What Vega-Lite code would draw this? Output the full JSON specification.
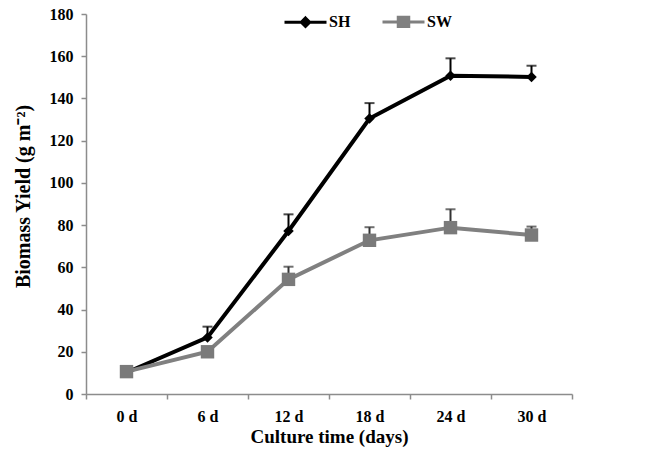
{
  "$schema": "https://vega.github.io/schema/vega-lite/v6.json",
  "width": 486,
  "height": 380,
  "autosize": "none",
  "padding": {"left": 86, "top": 14, "right": 92, "bottom": 65},
  "background": "white",
  "data": {
    "values": [
      {"time": "0 d", "series": "SH", "yield": 10.2, "upper": 10.2},
      {"time": "6 d", "series": "SH", "yield": 26.8, "upper": 31.9},
      {"time": "12 d", "series": "SH", "yield": 77.2, "upper": 85.1},
      {"time": "18 d", "series": "SH", "yield": 130.5, "upper": 137.8},
      {"time": "24 d", "series": "SH", "yield": 150.8, "upper": 159},
      {"time": "30 d", "series": "SH", "yield": 150.2, "upper": 155.5},
      {"time": "0 d", "series": "SW", "yield": 10.6, "upper": 10.6},
      {"time": "6 d", "series": "SW", "yield": 20, "upper": 20},
      {"time": "12 d", "series": "SW", "yield": 54.3, "upper": 60.3},
      {"time": "18 d", "series": "SW", "yield": 72.8, "upper": 79},
      {"time": "24 d", "series": "SW", "yield": 78.8, "upper": 87.5},
      {"time": "30 d", "series": "SW", "yield": 75.3, "upper": 79.3}
    ]
  },
  "encoding": {
    "x": {
      "field": "time",
      "type": "ordinal",
      "sort": ["0 d", "6 d", "12 d", "18 d", "24 d", "30 d"],
      "scale": {"paddingInner": 0, "paddingOuter": 0},
      "axis": {
        "title": "Culture time (days)",
        "labelAngle": 0,
        "tickBand": "extent",
        "labelPadding": 9,
        "titlePadding": 3
      }
    }
  },
  "layer": [
    {
      "transform": [{"filter": "datum.upper > datum.yield && datum.series === 'SH'"}],
      "mark": {"type": "rule", "strokeWidth": 2, "color": "#000000"},
      "encoding": {
        "y": {"field": "yield", "type": "quantitative"},
        "y2": {"field": "upper"}
      }
    },
    {
      "transform": [{"filter": "datum.upper > datum.yield && datum.series === 'SW'"}],
      "mark": {"type": "rule", "strokeWidth": 2, "color": "#333333"},
      "encoding": {
        "y": {"field": "yield", "type": "quantitative"},
        "y2": {"field": "upper"}
      }
    },
    {
      "transform": [{"filter": "datum.upper > datum.yield && datum.series === 'SH'"}],
      "mark": {"type": "tick", "orient": "horizontal", "size": 10, "thickness": 2, "color": "#000000"},
      "encoding": {
        "y": {"field": "upper", "type": "quantitative"}
      }
    },
    {
      "transform": [{"filter": "datum.upper > datum.yield && datum.series === 'SW'"}],
      "mark": {"type": "tick", "orient": "horizontal", "size": 10, "thickness": 2, "color": "#333333"},
      "encoding": {
        "y": {"field": "upper", "type": "quantitative"}
      }
    },
    {
      "mark": {"type": "line", "strokeWidth": 4},
      "encoding": {
        "y": {
          "field": "yield",
          "type": "quantitative",
          "scale": {"domain": [0, 180], "nice": false},
          "axis": {
            "title": "Biomass Yield (g m⁻²)",
            "values": [0, 20, 40, 60, 80, 100, 120, 140, 160, 180],
            "grid": false,
            "labelPadding": 8,
            "titlePadding": 16,
            "titleFontSize": 20,
            "titleY": 182
          }
        },
        "stroke": {
          "field": "series",
          "type": "nominal",
          "scale": {"domain": ["SH", "SW"], "range": ["#000000", "#808080"]},
          "legend": {
            "title": null,
            "orient": "none",
            "legendX": 197,
            "legendY": -15,
            "direction": "horizontal",
            "columnPadding": 25,
            "symbolSize": 1764,
            "symbolStrokeWidth": 3,
            "labelOffset": 1,
            "labelFont": "Liberation Serif",
            "labelFontWeight": "bold",
            "labelFontSize": 16,
            "labelColor": "#000000",
            "encode": {
              "symbols": {
                "update": {
                  "shape": {"signal": "datum.value === 'SH' ? 'M-1,0L-0.2,0M0.2,0L1,0M0,-0.2L0.2,0L0,0.2L-0.2,0Z' : 'M-1,0L-0.25,0M0.25,0L1,0M-0.25,-0.22L0.25,-0.22L0.25,0.22L-0.25,0.22Z'"},
                  "size": {"value": 1764},
                  "fill": {"signal": "datum.value === 'SH' ? '#000000' : '#808080'"},
                  "stroke": {"signal": "datum.value === 'SH' ? '#000000' : '#808080'"},
                  "strokeWidth": {"value": 3},
                  "opacity": {"value": 1}
                }
              }
            }
          }
        }
      }
    },
    {
      "transform": [{"filter": "datum.series === 'SH'"}],
      "mark": {"type": "point", "filled": true, "opacity": 1, "shape": "diamond", "size": 110, "color": "#000000"},
      "encoding": {
        "y": {"field": "yield", "type": "quantitative"}
      }
    },
    {
      "transform": [{"filter": "datum.series === 'SW'"}],
      "mark": {"type": "point", "filled": true, "opacity": 1, "shape": "square", "size": 180, "color": "#7a7a7a"},
      "encoding": {
        "y": {"field": "yield", "type": "quantitative"}
      }
    }
  ],
  "config": {
    "view": {"stroke": null},
    "font": "Liberation Serif",
    "axis": {
      "domainColor": "#8c8c8c",
      "domainWidth": 1.5,
      "tickColor": "#8c8c8c",
      "tickWidth": 1.5,
      "tickSize": 5,
      "labelFont": "Liberation Serif",
      "labelFontWeight": "bold",
      "labelFontSize": 16,
      "labelColor": "#000000",
      "titleFont": "Liberation Serif",
      "titleFontWeight": "bold",
      "titleFontSize": 19,
      "titleColor": "#000000"
    }
  }
}
